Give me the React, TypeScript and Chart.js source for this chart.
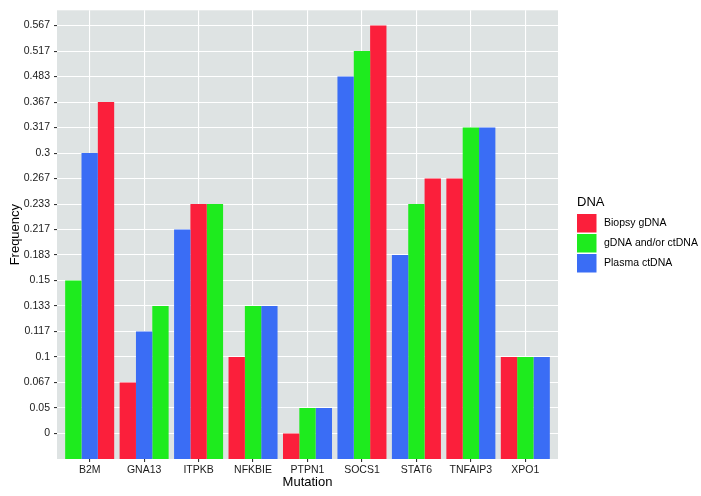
import React, { useEffect, useRef } from "react";
import { Chart, registerables } from "chart.js";

Chart.register(...registerables);

const categories = ["B2M", "GNA13", "ITPKB", "NFKBIE", "PTPN1", "SOCS1", "STAT6", "TNFAIP3", "XPO1"];
const seriesNames = ["Biopsy gDNA", "gDNA and/or ctDNA", "Plasma ctDNA"];
const seriesColors = ["#FB1F3B", "#1EEB1E", "#3A6DF5"];
const biopsyGDNA = [0.367, 0.067, 0.233, 0.1, 0, 0.567, 0.267, 0.267, 0.1];
const gdnaOrCtDNA = [0.15, 0.133, 0.233, 0.133, 0.05, 0.517, 0.233, 0.317, 0.1];
const plasmaCtDNA = [0.3, 0.117, 0.217, 0.133, 0.05, 0.483, 0.183, 0.317, 0.1];
const yLevels = [0, 0.05, 0.067, 0.1, 0.117, 0.133, 0.15, 0.183, 0.217, 0.233, 0.267, 0.3, 0.317, 0.367, 0.483, 0.517, 0.567];
const yTickLabels = ["0", "0.05", "0.067", "0.1", "0.117", "0.133", "0.15", "0.183", "0.217", "0.233", "0.267", "0.3", "0.317", "0.367", "0.483", "0.517", "0.567"];

const FONT = "'Liberation Sans', Arial, Helvetica, sans-serif";

export default function App() {
  const ref = useRef<HTMLCanvasElement | null>(null);

  useEffect(() => {
    const canvas = ref.current;
    if (!canvas) return;
    const series = [biopsyGDNA, gdnaOrCtDNA, plasmaCtDNA];
    const level = (v: number) => yLevels.indexOf(v) + 1;

    // within each category bars are ordered by value (stable)
    const slots = [0, 1, 2].map(() => ({ data: [] as { x: number; y: number }[], colors: [] as string[] }));
    categories.forEach((_, i) => {
      const items = series.map((s, k) => ({ k, v: s[i] }));
      items.sort((a, b) => a.v - b.v || a.k - b.k);
      items.forEach((it, j) => {
        slots[j].data.push({ x: i + 1, y: level(it.v) });
        slots[j].colors.push(seriesColors[it.k]);
      });
    });

    const bgPlugin = {
      id: "panelBg",
      beforeDraw(chart: any) {
        const { ctx, chartArea: a } = chart;
        ctx.save();
        ctx.fillStyle = "#DEE3E3";
        ctx.fillRect(a.left, a.top, a.right - a.left, a.bottom - a.top);
        ctx.restore();
      },
    };

    const legendPlugin = {
      id: "ggLegend",
      afterDraw(chart: any) {
        const ctx = chart.ctx;
        ctx.save();
        ctx.fillStyle = "#000";
        ctx.font = `13px ${FONT}`;
        ctx.textBaseline = "middle";
        ctx.textAlign = "left";
        ctx.fillText("DNA", 577, 202);
        seriesNames.forEach((name, k) => {
          const top = 214 + k * 20;
          ctx.fillStyle = seriesColors[k];
          ctx.fillRect(577, top, 19.5, 18.5);
          ctx.fillStyle = "#000";
          ctx.font = `10.5px ${FONT}`;
          ctx.fillText(name, 604, top + 9.5);
        });
        ctx.restore();
      },
    };

    const chart = new Chart(canvas, {
      type: "bar",
      data: {
        datasets: slots.map((s, j) => ({
          label: "slot" + j,
          data: s.data,
          backgroundColor: s.colors,
          borderWidth: 0,
          categoryPercentage: 0.9,
          barPercentage: 1,
        })),
      },
      options: {
        responsive: false,
        animation: false,
        devicePixelRatio: 1,
        layout: { padding: { top: 9, right: 143, left: 0, bottom: 0 } },
        plugins: { legend: { display: false }, tooltip: { enabled: false } },
        scales: {
          x: {
            type: "linear",
            min: 0.4,
            max: 9.6,
            offset: false,
            afterBuildTicks: (s: any) => {
              s.ticks = categories.map((_, i) => ({ value: i + 1 }));
            },
            afterFit: (s: any) => {
              s.height = 37;
            },
            ticks: {
              autoSkip: false,
              maxRotation: 0,
              padding: 2,
              color: "#1a1a1a",
              font: { family: FONT, size: 10.5 },
              callback: (_v: any, i: number) => categories[i],
            },
            grid: { color: "#FFFFFF", lineWidth: 1.1, tickColor: "#333", tickLength: 3, offset: false },
            border: { display: false },
            title: {
              display: true,
              text: "Mutation",
              color: "#000",
              font: { family: FONT, size: 13 },
              padding: { top: 0, bottom: 6 },
            },
          },
          y: {
            type: "linear",
            min: 0,
            max: 17.6,
            afterBuildTicks: (s: any) => {
              s.ticks = yTickLabels.map((_, i) => ({ value: i + 1 }));
            },
            afterFit: (s: any) => {
              s.width = 57;
            },
            ticks: {
              autoSkip: false,
              padding: 4,
              color: "#1a1a1a",
              font: { family: FONT, size: 10.5 },
              callback: (_v: any, i: number) => yTickLabels[i],
            },
            grid: { color: "#FFFFFF", lineWidth: 1.1, tickColor: "#333", tickLength: 3 },
            border: { display: false },
            title: {
              display: true,
              text: "Frequency",
              color: "#000",
              font: { family: FONT, size: 13 },
              padding: { top: 7.2, bottom: 0 },
            },
          },
        },
      },
      plugins: [bgPlugin, legendPlugin],
    } as any);

    return () => chart.destroy();
  }, []);

  return (
    <div style={{ position: "fixed", left: 0, top: 0, width: 701, height: 496, background: "#fff" }}>
      <canvas ref={ref} width={701} height={496} style={{ width: 701, height: 496, display: "block" }} />
    </div>
  );
}
